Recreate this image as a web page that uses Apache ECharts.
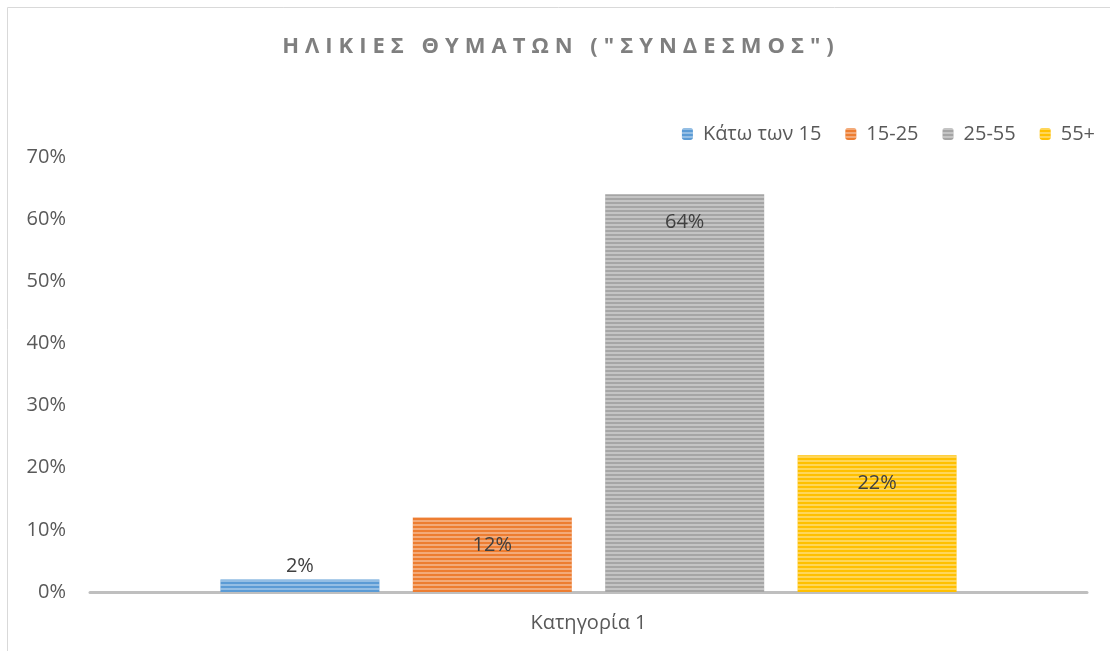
<!DOCTYPE html>
<html>
<head>
<meta charset="utf-8">
<script src="https://cdn.jsdelivr.net/npm/echarts@6/dist/echarts.min.js"></script>
<style>
  html, body { margin: 0; padding: 0; background: #fff; }
  #wrap { position: relative; width: 1110px; height: 651px; }
  #chart { width: 1110px; height: 651px; }
  #title {
    position: absolute; left: 0; top: 29px; width: 1110px; text-align: center;
    font-family: 'Open Sans', sans-serif; font-weight: 700; font-size: 22px;
    letter-spacing: 6px; padding-left: 12px; box-sizing: border-box;
    color: #7f7f7f; pointer-events: none;
  }
</style>
</head>
<body>
<div id="wrap">
  <div id="chart"></div>
  <div id="title">ΗΛΙΚΙΕΣ ΘΥΜΑΤΩΝ ("ΣΥΝΔΕΣΜΟΣ")</div>
</div>
<script>
// δεδομένα του γραφήματος
const categories = ['Κατηγορία 1']
const seriesNames = ['Κάτω των 15', '15-25', '25-55', '55+']
const seriesValues = [[0.02], [0.12], [0.64], [0.22]]
const seriesColors = ['#5b9bd5', '#ed7d31', '#a5a5a5', '#ffc000']
const yTicks = [0, 0.1, 0.2, 0.3, 0.4, 0.5, 0.6, 0.7]

const fontFamily = "'Open Sans', sans-serif"

let myChart = echarts.init(document.getElementById('chart'))

let series = []
for (let i = 0, len = seriesNames.length; i < len; i++) {
  // μικρές στήλες: η ετικέτα πάνω από τη στήλη, αλλιώς μέσα
  let small = seriesValues[i][0] < 0.05
  series.push({
    name: seriesNames[i],
    type: 'bar',
    data: seriesValues[i],
    barWidth: 159,
    barGap: '21%',
    itemStyle: {
      color: seriesColors[i],
      decal: {
        symbol: 'rect',
        symbolSize: 1,
        dashArrayX: [1, 0],
        dashArrayY: [2, 2],
        rotation: 0,
        color: 'rgba(255,255,255,0.35)'
      }
    },
    label: {
      show: true,
      position: small ? 'top' : 'insideTop',
      distance: small ? 3 : 18,
      fontFamily: fontFamily,
      fontSize: 20,
      color: '#404040',
      formatter: function (p) {
        return Math.round(p.value * 100) + '%'
      }
    }
  })
}

let option = {
  animation: false,
  textStyle: { fontFamily: fontFamily },
  legend: {
    data: seriesNames,
    right: 10,
    top: 119,
    itemWidth: 11,
    itemHeight: 12,
    itemGap: 24,
    textStyle: { fontSize: 20, color: '#595959', fontFamily: fontFamily, padding: [0, 0, 0, 5] }
  },
  grid: {
    left: 90,
    right: 23,
    top: 157,
    bottom: 59,
    containLabel: false
  },
  xAxis: {
    type: 'category',
    data: categories,
    axisLine: { show: true, lineStyle: { color: '#bfbfbf', width: 3 } },
    axisTick: { show: false },
    axisLabel: { fontSize: 20, color: '#595959', margin: 21 }
  },
  yAxis: {
    type: 'value',
    min: yTicks[0],
    max: yTicks[yTicks.length - 1],
    interval: 0.1,
    axisLine: { show: false },
    axisTick: { show: false },
    splitLine: { show: false },
    axisLabel: {
      fontSize: 20,
      color: '#595959',
      margin: 24,
      formatter: function (v) {
        return Math.round(v * 100) + '%'
      }
    }
  },
  graphic: [{
    type: 'polyline',
    silent: true,
    shape: { points: [[7.5, 651], [7.5, 7.5], [1110, 7.5]] },
    style: { stroke: '#d9d9d9', lineWidth: 1, fill: null }
  }],
  series: series
}

myChart.setOption(option, true)
</script>
</body>
</html>
